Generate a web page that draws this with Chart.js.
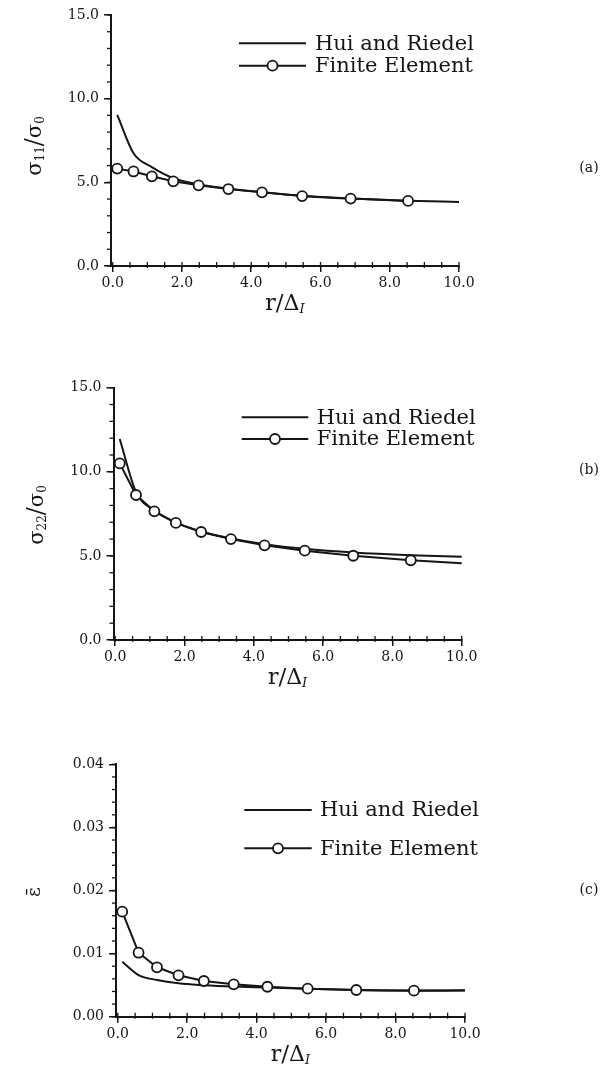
<!DOCTYPE html>
<html>
<head>
<meta charset="utf-8">
<script src="https://cdn.jsdelivr.net/npm/chart.js@4.4.1/dist/chart.umd.min.js"></script>
<style>
  html, body { margin: 0; padding: 0; background: #fff; }
  #page { position: relative; width: 614px; height: 1065px; overflow: hidden; background: #fff; }
  canvas { position: absolute; left: 0; }
</style>
</head>
<body>
<div id="page">
  <canvas id="panelA" width="614" height="330" style="top:0px"></canvas>
  <canvas id="panelB" width="614" height="350" style="top:340px"></canvas>
  <canvas id="panelC" width="614" height="365" style="top:700px"></canvas>
</div>
<script>
// r / Delta_I at the finite element nodes, and the analytic curve (goes on to 10)
const rNodes = [0.13, 0.6, 1.13, 1.75, 2.48, 3.34, 4.31, 5.47, 6.87, 8.53];
const rCurve = [0.13, 0.6, 1.13, 1.75, 2.48, 3.34, 4.31, 5.47, 6.87, 8.53, 10.0];

// (a) sigma_11 / sigma_0
const feA = [5.82, 5.65, 5.36, 5.06, 4.82, 4.60, 4.40, 4.18, 4.03, 3.89];
const hrA = [9.03, 6.74, 5.91, 5.25, 4.88, 4.62, 4.41, 4.19, 4.03, 3.90, 3.83];

// (b) sigma_22 / sigma_0  (FE line runs on to r = 10 past the last marker)
const feB = [10.5, 8.62, 7.65, 6.96, 6.42, 6.00, 5.63, 5.31, 5.01, 4.74, 4.56];
const hrB = [11.95, 8.80, 7.70, 6.98, 6.45, 6.04, 5.70, 5.42, 5.20, 5.04, 4.95];

// (c) equivalent strain
const feC = [0.01664, 0.01014, 0.00783, 0.00656, 0.00566, 0.00513, 0.00475, 0.00444, 0.00423, 0.00412, 0.00415];
const hrC = [0.00872, 0.0066, 0.00582, 0.00529, 0.00500, 0.00478, 0.00462, 0.00442, 0.00425, 0.00415, 0.00418];

// ticks
const xTicks = [0, 2, 4, 6, 8, 10];
const xTickLabels = ['0.0', '2.0', '4.0', '6.0', '8.0', '10.0'];
const yTicksStress = [0, 5, 10, 15];
const yTickLabelsStress = ['0.0', '5.0', '10.0', '15.0'];
const yTicksStrain = [0, 0.01, 0.02, 0.03, 0.04];
const yTickLabelsStrain = ['0.00', '0.01', '0.02', '0.03', '0.04'];

const seriesNames = ['Hui and Riedel', 'Finite Element'];

const ink = '#151515';
const serif = '"DejaVu Serif", "Liberation Serif", serif';

Chart.defaults.font.family = serif;
Chart.defaults.color = ink;

function pts(xs, ys) {
  return ys.map((y, i) => ({ x: xs[i], y: y }));
}

// draws a run of text pieces (for sub-scripts), centred on cx, cy
function drawRich(ctx, parts, cx, cy, rot) {
  ctx.save();
  ctx.translate(cx, cy);
  ctx.rotate(rot || 0);
  ctx.fillStyle = ink;
  ctx.textBaseline = 'middle';
  ctx.textAlign = 'left';
  let w = 0;
  parts.forEach(p => { ctx.font = p.font; p.w = ctx.measureText(p.t).width; w += p.w; });
  let x = -w / 2;
  parts.forEach(p => { ctx.font = p.font; ctx.fillText(p.t, x, p.dy || 0); x += p.w; });
  ctx.restore();
}

// minor ticks, legend, axis titles and panel tag
const decor = {
  id: 'decor',
  afterDraw(chart, args, o) {
    const ctx = chart.ctx;
    const xs = chart.scales.x, ys = chart.scales.y;
    ctx.save();
    ctx.strokeStyle = ink;
    ctx.lineWidth = 1.3;
    // minor ticks
    for (let v = xs.min; v <= xs.max + 1e-9; v += o.xMinor) {
      const px = xs.getPixelForValue(Math.round(v / o.xMinor) * o.xMinor);
      ctx.beginPath();
      ctx.moveTo(px, ys.bottom - 4);
      ctx.lineTo(px, ys.bottom + 2);
      ctx.stroke();
    }
    for (let v = 0; v <= ys.max + 1e-12; v += o.yMinor) {
      const py = ys.getPixelForValue(v);
      ctx.beginPath();
      ctx.moveTo(xs.left - 4, py);
      ctx.lineTo(xs.left, py);
      ctx.stroke();
    }
    // legend
    ctx.lineWidth = 2;
    o.legendRows.forEach((y, i) => {
      ctx.beginPath();
      ctx.moveTo(o.legendX1, y);
      ctx.lineTo(o.legendX2, y);
      ctx.stroke();
      if (i === 1) {
        ctx.beginPath();
        ctx.arc((o.legendX1 + o.legendX2) / 2, y, 5, 0, Math.PI * 2);
        ctx.fillStyle = '#fff';
        ctx.fill();
        ctx.lineWidth = 1.8;
        ctx.stroke();
      }
      ctx.fillStyle = ink;
      ctx.font = '21px ' + serif;
      ctx.textAlign = 'left';
      ctx.textBaseline = 'middle';
      ctx.fillText(seriesNames[i], o.legendText, y + 1);
    });
    // axis titles
    drawRich(ctx, o.yTitle, o.yTitleX, o.yTitleY, -Math.PI / 2);
    drawRich(ctx, [
      { t: 'r', font: '22px ' + serif },
      { t: '/', font: '23px ' + serif },
      { t: 'Δ', font: '22px ' + serif },
      { t: 'I', font: 'italic 13px ' + serif, dy: 6 }
    ], (xs.left + xs.right) / 2, o.xTitleY, 0);
    // panel tag
    ctx.fillStyle = ink;
    ctx.font = '14px ' + serif;
    ctx.textAlign = 'center';
    ctx.textBaseline = 'middle';
    ctx.fillText(o.tag, o.tagX, o.tagY);
    ctx.restore();
  }
};

function makePanel(id, p) {
  const canvas = document.getElementById(id);
  const H = canvas.height;
  const top = p.area.top - p.top;
  const bottom = p.area.bottom - p.top;
  new Chart(canvas.getContext('2d'), {
    type: 'line',
    data: {
      datasets: [
        {
          label: seriesNames[1],
          data: pts(p.feX, p.fe),
          borderColor: ink,
          borderWidth: 2,
          tension: 0,
          pointRadius: p.fe.map((v, i) => i < rNodes.length ? 5 : 0),
          pointBackgroundColor: '#fff',
          pointBorderColor: ink,
          pointBorderWidth: 1.8,
          clip: false
        },
        {
          label: seriesNames[0],
          data: pts(rCurve, p.hr),
          borderColor: ink,
          borderWidth: 2,
          cubicInterpolationMode: 'monotone',
          pointRadius: 0,
          clip: false
        }
      ]
    },
    options: {
      responsive: false,
      animation: false,
      devicePixelRatio: 1,
      layout: { padding: { left: 0, right: 614 - p.area.right, top: top, bottom: 0 } },
      plugins: {
        legend: { display: false },
        tooltip: { enabled: false },
        decor: {
          xMinor: 0.5,
          yMinor: p.yMinor,
          legendRows: p.legendRows.map(y => y - p.top),
          legendX1: p.legendX[0],
          legendX2: p.legendX[1],
          legendText: p.legendX[2],
          yTitle: p.yTitle,
          yTitleX: p.yTitlePos[0],
          yTitleY: p.yTitlePos[1] - p.top,
          xTitleY: p.xTitleY - p.top,
          tag: p.tag,
          tagX: 589,
          tagY: p.tagY - p.top
        }
      },
      scales: {
        x: {
          type: 'linear',
          min: -0.05,
          max: 10,
          afterFit: s => { s.height = H - bottom; },
          afterBuildTicks: s => { s.ticks = xTicks.map(v => ({ value: v })); },
          ticks: {
            padding: 3,
            font: { size: 14 },
            color: ink,
            callback: v => xTickLabels[xTicks.indexOf(v)]
          },
          grid: { drawOnChartArea: false, tickLength: 6, color: ink, lineWidth: 1.5 },
          border: { color: ink, width: 2 }
        },
        y: {
          min: 0,
          max: p.yMax,
          afterFit: s => { s.width = p.area.left; },
          afterBuildTicks: s => { s.ticks = p.yTicks.map(v => ({ value: v })); },
          ticks: {
            padding: 5,
            font: { size: 14 },
            color: ink,
            callback: v => p.yLabels[p.yTicks.indexOf(v)]
          },
          grid: { drawOnChartArea: false, tickLength: 7, color: ink, lineWidth: 1.5 },
          border: { color: ink, width: 2 }
        }
      }
    },
    plugins: [decor]
  });
}

const sub = '12px ' + serif;
const big = '21px ' + serif;

makePanel('panelA', {
  top: 0,
  area: { left: 111, right: 459, top: 15, bottom: 266 },
  feX: rNodes, fe: feA, hr: hrA,
  yMax: 15, yMinor: 1, yTicks: yTicksStress, yLabels: yTickLabelsStress,
  legendRows: [43.3, 65.7], legendX: [239, 306, 315],
  yTitle: [
    { t: 'σ', font: big }, { t: '11', font: sub, dy: 5 },
    { t: '/', font: '24px ' + serif }, { t: 'σ', font: big }, { t: '0', font: sub, dy: 5 }
  ],
  yTitlePos: [36, 146], xTitleY: 304, tag: '(a)', tagY: 168
});

makePanel('panelB', {
  top: 340,
  area: { left: 113.5, right: 461.7, top: 387.7, bottom: 640 },
  feX: rCurve, fe: feB, hr: hrB,
  yMax: 15, yMinor: 1, yTicks: yTicksStress, yLabels: yTickLabelsStress,
  legendRows: [417.3, 439], legendX: [241.7, 308.3, 316.7],
  yTitle: [
    { t: 'σ', font: big }, { t: '22', font: sub, dy: 5 },
    { t: '/', font: '24px ' + serif }, { t: 'σ', font: big }, { t: '0', font: sub, dy: 5 }
  ],
  yTitlePos: [38, 515], xTitleY: 678, tag: '(b)', tagY: 470
});

makePanel('panelC', {
  top: 700,
  area: { left: 116, right: 465, top: 764.3, bottom: 1016.7 },
  feX: rCurve, fe: feC, hr: hrC,
  yMax: 0.04, yMinor: 0.002, yTicks: yTicksStrain, yLabels: yTickLabelsStrain,
  legendRows: [810, 848.3], legendX: [244.3, 311.7, 320],
  yTitle: [{ t: 'ε̄', font: '19px ' + serif }],
  yTitlePos: [35, 892], xTitleY: 1055, tag: '(c)', tagY: 890
});
</script>
</body>
</html>
